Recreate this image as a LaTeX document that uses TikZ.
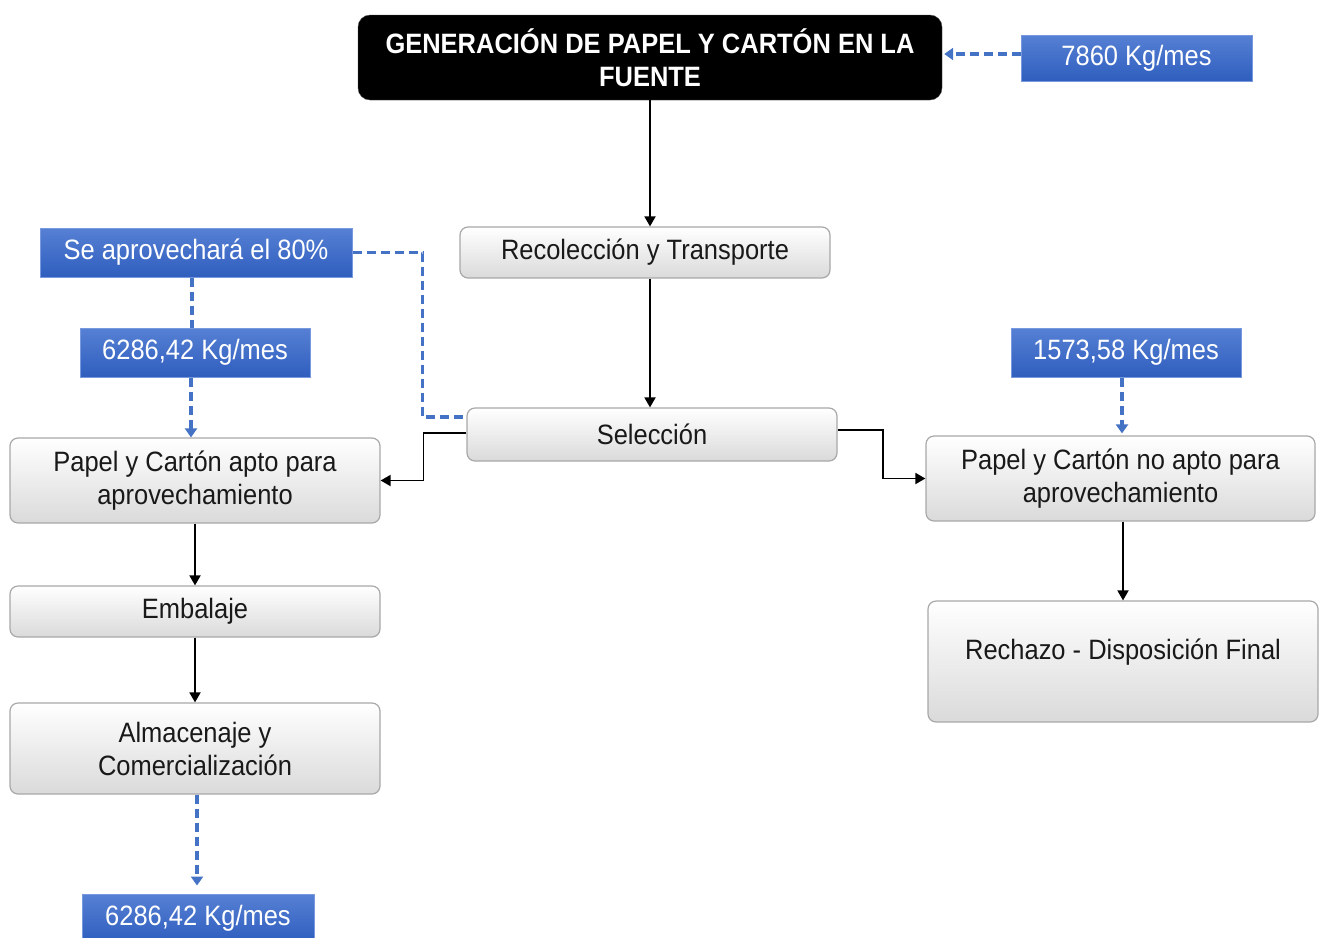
\documentclass[tikz,border=0pt]{standalone}
\usepackage{fontspec}
\setmainfont{Liberation Sans}[FakeStretch=0.91]
\usetikzlibrary{arrows.meta,calc}
\definecolor{flowblue}{RGB}{68,114,196}
\definecolor{boxtop}{RGB}{86,128,212}
\definecolor{boxbot}{RGB}{47,94,190}
\definecolor{grayedge}{RGB}{168,168,168}
\definecolor{graybot}{RGB}{218,218,218}
\tikzset{
  txt/.style={font=\fontsize{28}{33}\selectfont},
  stepbox/.style={txt, draw=grayedge, line width=1.2pt, rounded corners=8pt,
    top color=white, bottom color=graybot, text=black!90, align=center,
    inner sep=0pt},
  headbox/.style={txt, font=\fontsize{28}{33}\selectfont\bfseries, draw=black!70,
    fill=black, rounded corners=12pt, text=white, align=center, inner sep=0pt},
  qtybox/.style={txt, draw=boxtop!80!white, line width=1pt, top color=boxtop,
    bottom color=boxbot, text=white, align=center, inner sep=0pt},
  flow/.style={draw=black, line width=1.8pt,
    -{Triangle[width=11pt,length=10pt]}},
  dashflow/.style={draw=flowblue, line width=3.4pt, dash pattern=on 9pt off 5pt},
  dasharrow/.style={dashflow, -{Triangle[width=12pt,length=9pt]}},
}
\begin{document}
\begin{tikzpicture}[x=1pt,y=-1pt]
\useasboundingbox (0,0) rectangle (1324,937);
\clip (0,0) rectangle (1324,937);

% process boxes
\node[headbox, minimum width=584pt, minimum height=85pt] (gen) at (650,57.5)
  {GENERACIÓN DE PAPEL Y CARTÓN EN LA\\FUENTE};
\node[stepbox, minimum width=370pt, minimum height=51pt] (recol) at (645,252.5)
  {Recolección y Transporte};
\node[stepbox, minimum width=370pt, minimum height=53pt] (selec) at (652,434.5)
  {Selección};
\node[stepbox, minimum width=370pt, minimum height=85pt] (apto) at (195,480.5)
  {Papel y Cartón apto para\\aprovechamiento};
\node[stepbox, minimum width=389pt, minimum height=85pt] (noapto) at (1120.5,478.5)
  {Papel y Cartón no apto para\\aprovechamiento};
\node[stepbox, minimum width=390pt, minimum height=121pt] (rechazo) at (1123,661.5)
  {Rechazo - Disposición Final\\[-18pt]\strut};
\node[stepbox, minimum width=370pt, minimum height=51pt] (embal) at (195,611.5)
  {Embalaje};
\node[stepbox, minimum width=370pt, minimum height=91pt] (almac) at (195,748.5)
  {Almacenaje y\\Comercialización};

% quantity labels
\node[qtybox, minimum width=231pt, minimum height=46pt] (kgsrc) at (1136.5,58)
  {7860 Kg/mes};
\node[qtybox, minimum width=312pt, minimum height=49pt] (aprov) at (196,252.5)
  {Se aprovechará el 80\%};
\node[qtybox, minimum width=230pt, minimum height=49pt] (kgapto) at (195,352.5)
  {6286,42 Kg/mes};
\node[qtybox, minimum width=230pt, minimum height=49pt] (kgno) at (1126,352.5)
  {1573,58 Kg/mes};
\node[qtybox, minimum width=232pt, minimum height=48pt] (kgout) at (198,918)
  {6286,42 Kg/mes};

% main flow
\draw[flow] (gen.south) -- (gen.south |- recol.north);
\draw[flow] (recol.south -| gen.south) -- (selec.north -| gen.south);
\draw[flow] ([yshift=1.5pt]selec.west) -- ++(-43,0) |- (apto.east);
\draw[flow] ([yshift=4.5pt]selec.east) -- ++(45,0) |- (noapto.west);
\draw[flow] (rechazo.north |- noapto.south) -- (rechazo.north);
\draw[flow] (apto.south) -- (embal.north);
\draw[flow] (embal.south) -- (almac.north);

% quantity links
\draw[dasharrow, shorten >=2pt] ([yshift=4pt]kgsrc.west) -- ([yshift=4pt]kgsrc.west -| gen.east);
\draw[dashflow] (aprov.east) -- ++(70,0) |- ([yshift=17.5pt]selec.west);
\draw[dashflow] ([xshift=-4pt]aprov.south) -- ([xshift=-4pt]aprov.south |- kgapto.north);
\draw[dasharrow] ([xshift=-4pt]kgapto.south) -- ([xshift=-4pt]kgapto.south |- apto.north);
\draw[dasharrow, shorten >=2pt] ([xshift=-4pt]kgno.south) -- ([xshift=-4pt]kgno.south |- noapto.north);
\draw[dasharrow, shorten >=8pt] ([xshift=2pt]almac.south) -- ([xshift=2pt]almac.south |- kgout.north);
\end{tikzpicture}
\end{document}
